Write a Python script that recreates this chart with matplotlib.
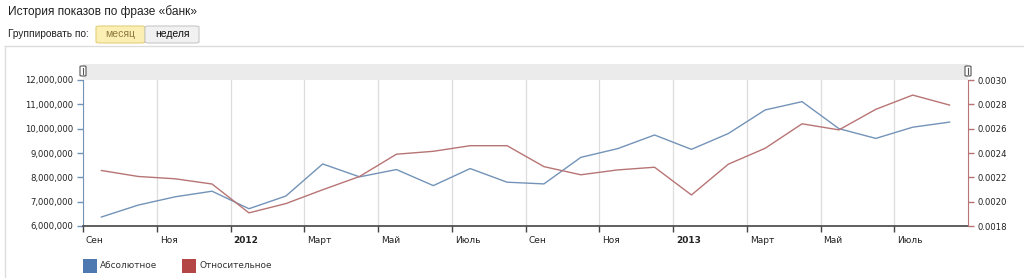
import matplotlib
matplotlib.use("Agg")
import matplotlib.pyplot as plt
import matplotlib.patches as mpatches
import matplotlib.transforms as mtransforms
import numpy as np

# monthly data, Sep 2011 .. Aug 2013
months = ["Сен", "Окт", "Ноя", "Дек", "Янв", "Фев", "Март", "Апр", "Май", "Июнь", "Июль", "Авг",
          "Сен", "Окт", "Ноя", "Дек", "Янв", "Фев", "Март", "Апр", "Май", "Июнь", "Июль", "Авг"]
absolute = [6370000, 6860000, 7200000, 7430000, 6710000, 7230000, 8550000, 8020000,
            8320000, 7660000, 8360000, 7800000, 7730000, 8820000, 9180000, 9740000,
            9150000, 9800000, 10770000, 11110000, 10000000, 9600000, 10060000, 10270000]
relative = [0.002256, 0.002207, 0.002188, 0.002145, 0.001908, 0.001984, 0.002098, 0.002207,
            0.002390, 0.002414, 0.002460, 0.002460, 0.002288, 0.002221, 0.002261, 0.002283,
            0.002055, 0.002308, 0.002439, 0.002640, 0.002590, 0.002759, 0.002876, 0.002794]
tick_labels = ["Сен", "Ноя", "2012", "Март", "Май", "Июль",
               "Сен", "Ноя", "2013", "Март", "Май", "Июль"]
left_ticks = [6000000, 7000000, 8000000, 9000000, 10000000, 11000000, 12000000]
right_ticks = [0.0018, 0.0020, 0.0022, 0.0024, 0.0026, 0.0028, 0.0030]

blue = "#7393b8"
red = "#b87474"
W, H = 1024, 278

fig = plt.figure(figsize=(W / 100, H / 100), dpi=100)
plt.rcParams['font.family'] = ['DejaVu Sans']
hdr = ['Liberation Sans', 'DejaVu Sans']


def fx(px):
    return px / W


def fy(py):
    return 1 - py / H


# header
fig.text(fx(8), fy(12), "История показов по фразе «банк»", fontsize=8.6, color="#222",
         va="center", ha="left", family=hdr)
fig.text(fx(8), fy(34), "Группировать по:", fontsize=7.3, color="#222", va="center", ha="left",
         family=hdr)
fig.patches.append(mpatches.FancyBboxPatch((fx(96), fy(43)), fx(49), fy(0) - fy(17),
                                           boxstyle="round,pad=0,rounding_size=0.004",
                                           transform=fig.transFigure, fc="#fcefb4", ec="#e2cf7a", lw=0.8))
fig.patches.append(mpatches.FancyBboxPatch((fx(145), fy(43)), fx(54), fy(0) - fy(17),
                                           boxstyle="round,pad=0,rounding_size=0.004",
                                           transform=fig.transFigure, fc="#f1f1f1", ec="#c8c8c8", lw=0.8))
fig.text(fx(120), fy(34), "месяц", fontsize=7.5, color="#8c7a3c", ha="center", va="center", family=hdr)
fig.text(fx(172), fy(34), "неделя", fontsize=7.5, color="#111", ha="center", va="center", family=hdr)

# container frame
fig.add_artist(plt.Line2D([fx(5), fx(1024)], [fy(46), fy(46)], transform=fig.transFigure,
                          color="#dcdcdc", lw=1))
fig.add_artist(plt.Line2D([fx(5), fx(5)], [fy(46), fy(278)], transform=fig.transFigure,
                          color="#dcdcdc", lw=1))

# scroller band
fig.patches.append(mpatches.Rectangle((fx(83), fy(80)), fx(885), fy(0) - fy(16),
                                      transform=fig.transFigure, fc="#ebebeb", ec="none"))
for hx in (83, 968):
    fig.patches.append(mpatches.FancyBboxPatch((fx(hx - 3), fy(76)), fx(6), fy(0) - fy(10),
                                               boxstyle="round,pad=0,rounding_size=0.002",
                                               transform=fig.transFigure, fc="white", ec="#555", lw=0.8))
    fig.add_artist(plt.Line2D([fx(hx), fx(hx)], [fy(74), fy(68)], transform=fig.transFigure,
                              color="#555", lw=0.8))

ax = fig.add_axes([fx(83), fy(226), fx(885), fy(0) - fy(146)])
x = np.arange(len(months)) + 0.5
ax.plot(x, absolute, color=blue, lw=1.0)
ax.set_xlim(0, len(months))
ax.set_ylim(left_ticks[0], left_ticks[-1])
ax.set_yticks(left_ticks)
ax.set_yticklabels([f"{v:,}" for v in left_ticks])
ax.set_xticks(np.arange(0, len(months), 2))
ax.set_xticklabels(tick_labels)
ax.tick_params(axis="x", length=4, width=1, color="#444", labelsize=6.5, labelcolor="#222", pad=3)
ax.tick_params(axis="y", length=4, width=1, color=blue, labelsize=6.1, labelcolor="#222", pad=3)
shift = mtransforms.ScaledTranslation(3 / 100, 0, fig.dpi_scale_trans)
for lbl in ax.get_xticklabels():
    lbl.set_horizontalalignment("left")
    lbl.set_transform(lbl.get_transform() + shift)
    if lbl.get_text() in ("2012", "2013"):
        lbl.set_fontweight("bold")
ax.grid(axis="x", color="#dddddd", lw=0.9)
ax.set_axisbelow(True)
for s in ("top", "right"):
    ax.spines[s].set_visible(False)
ax.spines["bottom"].set_color("#444")
ax.spines["bottom"].set_linewidth(1.2)
ax.spines["left"].set_color(blue)

ax2 = ax.twinx()
ax2.plot(x, relative, color=red, lw=1.0)
ax2.set_ylim(right_ticks[0], right_ticks[-1])
ax2.set_yticks(right_ticks)
ax2.set_yticklabels([f"{v:.4f}" for v in right_ticks])
ax2.tick_params(axis="y", length=4, width=1, color=red, labelsize=6.1, labelcolor="#222", pad=3)
for s in ("top", "left", "bottom"):
    ax2.spines[s].set_visible(False)
ax2.spines["right"].set_color(red)

# legend
fig.patches.append(mpatches.Rectangle((fx(83), fy(273)), fx(14), fy(0) - fy(14),
                                      transform=fig.transFigure, fc="#4d78b0", ec="none"))
fig.text(fx(100), fy(266), "Абсолютное", fontsize=6.4, color="#333", va="center")
fig.patches.append(mpatches.Rectangle((fx(182), fy(273)), fx(14), fy(0) - fy(14),
                                      transform=fig.transFigure, fc="#b54646", ec="none"))
fig.text(fx(199), fy(266), "Относительное", fontsize=6.4, color="#333", va="center")

fig.savefig("out.png", dpi=100)
